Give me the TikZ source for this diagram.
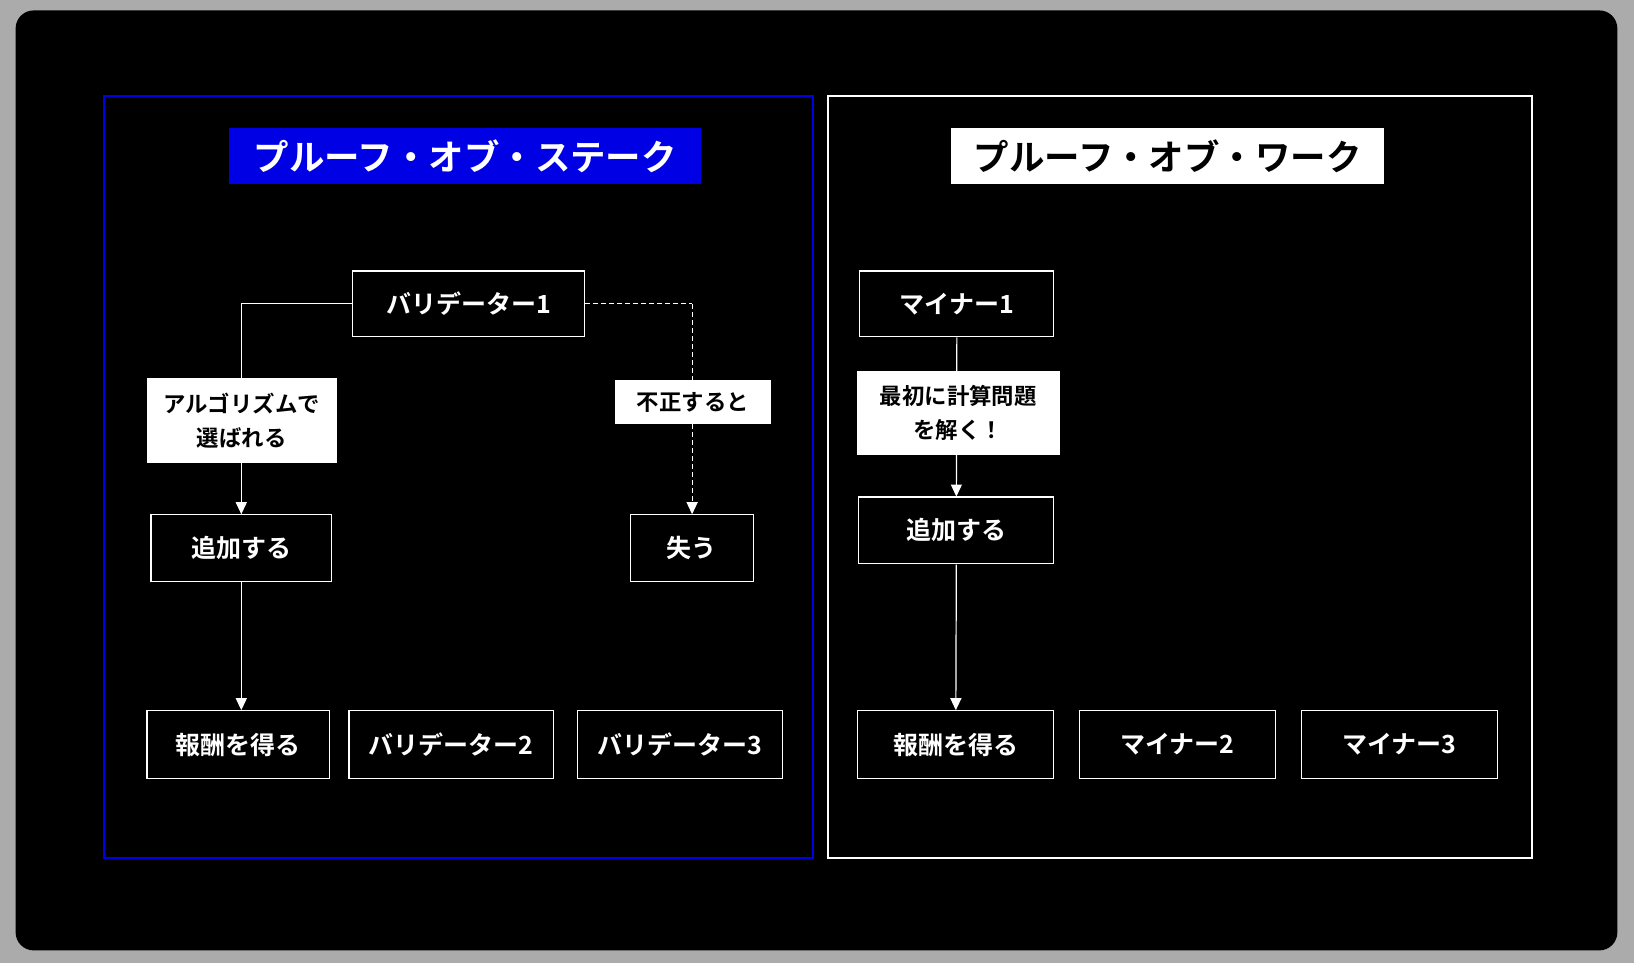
\documentclass[tikz,border=0pt]{standalone}
\usepackage{fontspec}
\setmainfont{Noto Sans CJK JP}[BoldFont={* Bold}]
\usetikzlibrary{arrows.meta}
\begin{document}
\begin{tikzpicture}[x=1pt,y=-1pt,scale=1.0421,every node/.append style={transform shape},
  box/.style={draw=white,line width=1.3pt,fill=black,text=white,font=\bfseries\fontsize{24}{26}\selectfont,inner sep=0pt},
  lab/.style={fill=white,text=black,font=\bfseries\fontsize{21.5}{33}\selectfont,align=center,inner sep=0pt},
  conn/.style={draw=white,line width=1.2pt,-{Triangle[length=12pt,width=11pt]}},
  plain/.style={draw=white,line width=1.2pt}]
\fill[black!33] (0,0) rectangle (1568,924);
\useasboundingbox (0,0) rectangle (1568,924);
\fill[black,rounded corners=18pt] (15,10) rectangle (1552,912);
\draw[blue!90!black,line width=2pt] (100,92) rectangle (780,823);
\draw[white,line width=2pt] (795,92) rectangle (1470,823);
\node[fill=blue!90!black,text=white,font=\bfseries\fontsize{34}{40}\selectfont,minimum width=453pt,minimum height=54pt,inner sep=0pt] (t1) at (446.5,150) {プルーフ・オブ・ステーク};
\node[fill=white,text=black,font=\bfseries\fontsize{34}{40}\selectfont,minimum width=415pt,minimum height=54pt,inner sep=0pt] (t2) at (1120.5,150) {プルーフ・オブ・ワーク};
% left
\node[box,minimum width=223pt,minimum height=63pt] (v1) at (449.5,291.5) {バリデーター1};
\node[box,minimum width=173pt,minimum height=64pt] (add1) at (231.5,526) {追加する};
\node[box,minimum width=118pt,minimum height=64pt] (lose) at (664,526) {失う};
\node[box,minimum width=175pt,minimum height=65pt] (rw1) at (228.5,714.5) {報酬を得る};
\node[box,minimum width=196pt,minimum height=65pt] (v2) at (433,714.5) {バリデーター2};
\node[box,minimum width=197pt,minimum height=65pt] (v3) at (652.5,714.5) {バリデーター3};
\coordinate (c1) at (231.5,291.5);
\coordinate (c2) at (664,291.5);
\draw[plain] (v1.west) -- (c1);
\draw[conn] (c1) -- (add1.north);
\draw[conn] (add1.south) -- (rw1.north -| add1.south);
\draw[white,line width=1.2pt,dash pattern=on 5pt off 3pt] (v1.east) -- (c2);
\draw[conn,dash pattern=on 5pt off 3pt] (c2) -- (lose.north);
\node[lab,minimum width=182pt,minimum height=81pt] (l1) at (232,403.5) {アルゴリズムで\\選ばれる};
\node[lab,minimum width=150pt,minimum height=42pt] (l2) at (665,386) {不正すると};
% right
\node[box,minimum width=186pt,minimum height=63pt] (m1) at (918,291.5) {マイナー1};
\node[box,minimum width=187pt,minimum height=64pt] (add2) at (917.5,509) {追加する};
\node[box,minimum width=188pt,minimum height=65pt] (rw2) at (917,714.5) {報酬を得る};
\node[box,minimum width=188pt,minimum height=65pt] (m2) at (1130,714.5) {マイナー2};
\node[box,minimum width=188pt,minimum height=65pt] (m3) at (1343,714.5) {マイナー3};
\draw[conn] (m1.south) -- (add2.north);
\draw[conn] (add2.south) -- (rw2.north);
\node[lab,minimum width=195pt,minimum height=81pt] (l3) at (919.5,396.5) {最初に計算問題\\を解く！};
\end{tikzpicture}
\end{document}
